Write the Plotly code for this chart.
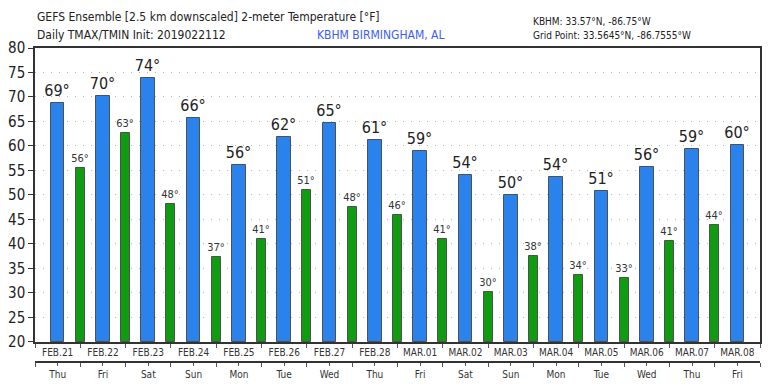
import plotly.graph_objects as go

dates = ["FEB.21", "FEB.22", "FEB.23", "FEB.24", "FEB.25", "FEB.26", "FEB.27", "FEB.28",
         "MAR.01", "MAR.02", "MAR.03", "MAR.04", "MAR.05", "MAR.06", "MAR.07", "MAR.08"]
weekdays = ["Thu", "Fri", "Sat", "Sun", "Mon", "Tue", "Wed", "Thu",
            "Fri", "Sat", "Sun", "Mon", "Tue", "Wed", "Thu", "Fri"]
tmax = [68.7, 70.3, 73.9, 65.8, 56.1, 61.8, 64.6, 61.2,
        59.0, 54.0, 49.9, 53.6, 50.8, 55.7, 59.3, 60.3]
tmin = [55.6, 62.6, 48.2, 37.4, 41.1, 51.0, 47.6, 45.9,
        41.1, 30.2, 37.6, 33.6, 33.0, 40.7, 43.9]

FONT = "DejaVu Sans Condensed, DejaVu Sans, sans-serif"

day_idx = list(range(len(dates)))
night_idx = [i + 0.5 for i in range(len(tmin))]

fig = go.Figure()
fig.add_trace(go.Bar(
    x=day_idx, y=[v - 20 for v in tmax], base=20, width=0.30,
    marker=dict(color="#2a82ec", line=dict(color="#505050", width=1)),
    text=[f"{v:.0f}°" for v in tmax], textposition="outside",
    textfont=dict(size=16, color="#222", family=FONT),
    cliponaxis=False, constraintext="none", showlegend=False,
))
fig.add_trace(go.Bar(
    x=night_idx, y=[v - 20 for v in tmin], base=20, width=0.20,
    marker=dict(color="#0f9c10", line=dict(color="#505050", width=1)),
    text=[f"{v:.0f}°" for v in tmin], textposition="outside",
    textfont=dict(size=11, color="#333", family=FONT),
    cliponaxis=False, constraintext="none", showlegend=False,
))
fig.add_trace(go.Scatter(x=day_idx, y=[None] * len(day_idx), xaxis="x2",
                         showlegend=False, hoverinfo="skip"))

fig.update_layout(
    width=768, height=384,
    margin=dict(l=35, r=8, t=48, b=22, autoexpand=False),
    paper_bgcolor="white", plot_bgcolor="white",
    barmode="overlay", bargap=0,
    font=dict(family=FONT, color="#222"),
    xaxis=dict(
        range=[-0.5, 15.5], tickvals=day_idx, ticktext=dates,
        ticks="", tickfont=dict(size=10, color="#333"),
        showline=True, linecolor="#333", linewidth=1.5, mirror=True,
        showgrid=False, zeroline=False, automargin=False,
        minor=dict(ticks="outside", tick0=-0.5, dtick=1, ticklen=4, tickcolor="#555", showgrid=False),
        anchor="y",
    ),
    xaxis2=dict(
        overlaying="x", anchor="free", position=0, side="bottom",
        range=[-0.5, 15.5], tickvals=day_idx, ticktext=weekdays,
        ticks="outside", ticklen=3, tickcolor="#555", tickfont=dict(size=10, color="#333"),
        showline=True, linecolor="#333", linewidth=1.5,
        showgrid=False, zeroline=False, automargin=False,
        minor=dict(ticks="outside", tick0=-0.5, dtick=1, ticklen=4, tickcolor="#555", showgrid=False),
    ),
    yaxis=dict(
        domain=[0.064, 1], range=[20, 80], tickvals=list(range(20, 81, 5)),
        ticks="outside", ticklen=5, tickcolor="#333",
        tickfont=dict(size=15, color="#222"),
        showline=True, linecolor="#333", linewidth=1.5, mirror=True,
        showgrid=True, gridcolor="#b4b4b4", griddash="1px,7px", gridwidth=1,
        zeroline=False, automargin=False,
    ),
)

fig.add_annotation(text="GEFS Ensemble [2.5 km downscaled] 2-meter Temperature [°F]",
                   xref="paper", yref="paper", x=0, y=1, xanchor="left", yanchor="middle",
                   yshift=31, showarrow=False, font=dict(size=12, color="#222"))
fig.add_annotation(text="Daily TMAX/TMIN Init: 2019022112",
                   xref="paper", yref="paper", x=0, y=1, xanchor="left", yanchor="middle",
                   yshift=13, showarrow=False, font=dict(size=12, color="#222"))
fig.add_annotation(text="KBHM BIRMINGHAM, AL",
                   xref="paper", yref="paper", x=0.386, y=1, xanchor="left", yanchor="middle",
                   yshift=13, showarrow=False, font=dict(size=12, color="#3a5cff"))
fig.add_annotation(text="KBHM: 33.57°N, -86.75°W",
                   xref="paper", yref="paper", x=0.684, y=1, xanchor="left", yanchor="middle",
                   yshift=27, showarrow=False, font=dict(size=10, color="#222"))
fig.add_annotation(text="Grid Point: 33.5645°N, -86.7555°W",
                   xref="paper", yref="paper", x=0.684, y=1, xanchor="left", yanchor="middle",
                   yshift=13, showarrow=False, font=dict(size=10, color="#222"))

fig.write_html("out.html", post_script="document.body.style.margin='0';",
               config={"displayModeBar": False})
